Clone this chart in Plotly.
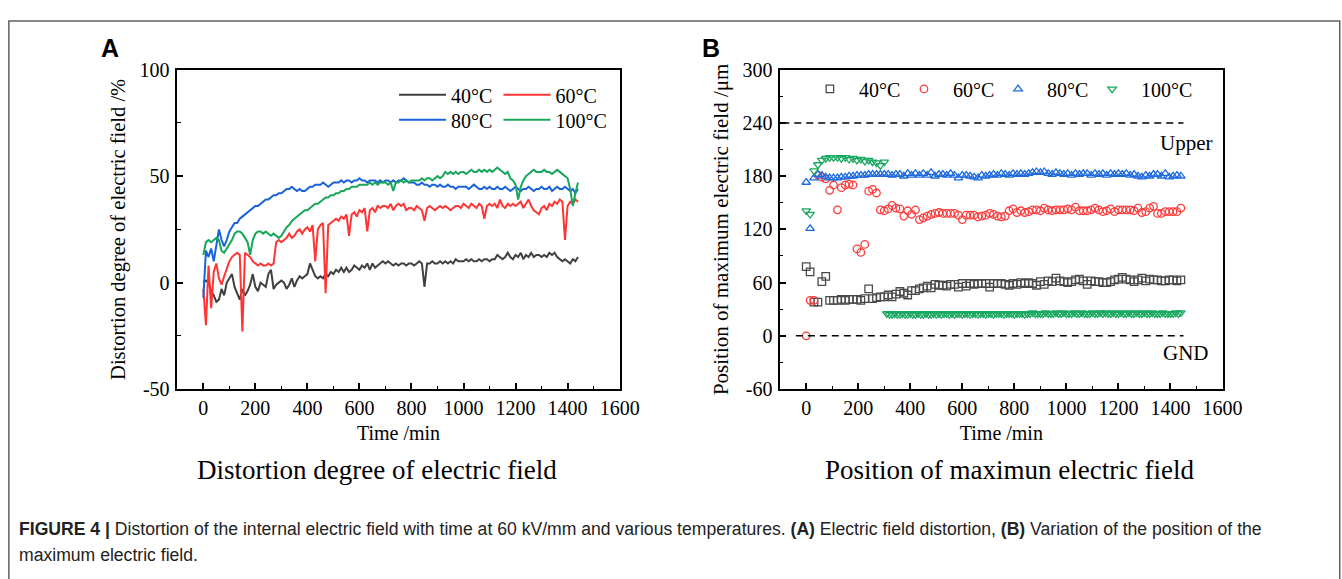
import plotly.graph_objects as go

W, H = 1342, 579
def px(x):
    return x / W
def py(y):
    return 1 - y / H

# ---------------- Panel A data (Distortion degree, %) ----------------
time_a = list(range(0, 1441, 10))
dist_40 = [0, 1, 0, -4, -6, -9, -8, -3, -6, 0,
           2, 4, -2, -5, -8, -3, -6, -4, -1, 4,
           -2, -4, 0, -1, -2, 4, 6, -3, -1, 0,
           1, 0, -3, -1, 2, -2, 1, 3, 2, 3,
           4, 9, 6, 3, 2, 3, 2, 4, 3, 5,
           4, 6, 5, 7, 5, 7, 5, 6, 8, 7,
           6, 8, 7, 9, 6, 9, 7, 8, 9, 10,
           9, 10, 9, 8, 9, 8, 9, 9, 8, 9,
           9, 8, 9, 10, 9, -2, 9, 9, 10, 9,
           9, 10, 9, 10, 9, 10, 9, 11, 10, 10,
           10, 11, 10, 11, 10, 10, 11, 10, 11, 11,
           10, 11, 11, 13, 12, 11, 12, 14, 12, 11,
           13, 12, 14, 11, 13, 12, 14, 12, 13, 13,
           12, 13, 12, 14, 13, 14, 12, 11, 10, 11,
           10, 9, 11, 10, 12]
dist_60 = [-3, -20, 8, -12, 5, 9, 2, -1, 3, 7,
           10, 12, 13, 14, 13, -23, 14, 13, 12, 10,
           9, 8, 9, 8, 8, 9, 8, 9, 19, 20,
           19, 20, 21, 23, 21, 22, 24, 25, 23, 25,
           26, 24, 27, 10, 25, 27, 28, -5, 27, 28,
           29, 30, 29, 31, 30, 32, 22, 32, 33, 31,
           34, 33, 35, 24, 34, 35, 33, 36, 35, 36,
           36, 35, 37, 34, 36, 37, 36, 37, 34, 35,
           35, 34, 36, 35, 34, 29, 35, 36, 35, 34,
           35, 36, 35, 36, 35, 34, 35, 36, 36, 35,
           37, 36, 35, 37, 36, 35, 37, 36, 30, 36,
           37, 36, 37, 35, 39, 36, 35, 37, 36, 37,
           36, 37, 38, 35, 37, 39, 36, 34, 33, 32,
           35, 36, 34, 37, 36, 38, 37, 39, 38, 20,
           36, 38, 37, 39, 38]
dist_80 = [-7, 15, 12, 16, 10, 18, 25, 20, 17, 20,
           24, 26, 28, 28, 30, 31, 32, 33, 34, 35,
           36, 36, 37, 38, 39, 39, 40, 41, 41, 42,
           42, 43, 44, 44, 45, 44, 43, 44, 43, 43,
           44, 45, 45, 46, 46, 46, 47, 46, 45, 46,
           47, 47, 47, 48, 47, 48, 48, 47, 48, 48,
           49, 48, 48, 47, 48, 48, 48, 47, 48, 47,
           48, 48, 47, 48, 47, 48, 48, 49, 48, 47,
           47, 47, 46, 46, 47, 46, 46, 45, 46, 46,
           45, 46, 45, 45, 46, 45, 45, 44, 45, 45,
           45, 45, 44, 45, 46, 45, 44, 44, 45, 44,
           45, 44, 44, 45, 44, 44, 45, 44, 43, 44,
           45, 44, 43, 44, 44, 45, 44, 43, 44, 44,
           45, 44, 44, 45, 43, 44, 45, 44, 44, 45,
           44, 43, 44, 42, 44]
dist_100 = [13, 19, 20, 19, 20, 21, 20, 15, 14, 16,
            18, 20, 23, 24, 24, 23, 21, 19, 13, 20,
            23, 24, 24, 23, 24, 23, 22, 23, 22, 21,
            22, 24, 26, 27, 29, 30, 31, 32, 33, 34,
            34, 35, 36, 37, 37, 38, 39, 40, 40, 41,
            41, 42, 42, 43, 43, 44, 44, 45, 45, 45,
            46, 46, 46, 46, 47, 46, 47, 46, 47, 47,
            47, 46, 47, 43, 47, 47, 48, 47, 48, 47,
            48, 48, 48, 48, 49, 48, 49, 49, 48, 49,
            50, 49, 50, 52, 51, 52, 51, 52, 51, 52,
            52, 51, 52, 53, 52, 52, 53, 52, 53, 52,
            53, 52, 53, 54, 53, 52, 51, 52, 49, 48,
            46, 39, 45, 48, 50, 51, 52, 53, 52, 52,
            52, 53, 52, 52, 51, 52, 53, 52, 51, 50,
            49, 44, 36, 42, 47]

# ---------------- Panel B data (Position of max field, um) ----------------
time_b = list(range(0, 1441, 15))
pos_40 = [78, 72, 38, 38, 61, 67, 40, 40, 40, 41,
          40, 41, 41, 41, 40, 42, 53, 42, 43, 44,
          44, 46, 44, 47, 50, 48, 46, 51, 51, 53,
          54, 56, 54, 58, 57, 57, 56, 58, 58, 55,
          59, 56, 59, 58, 59, 59, 59, 55, 59, 59,
          59, 58, 57, 59, 58, 60, 59, 60, 59, 57,
          61, 58, 62, 61, 65, 62, 61, 60, 61, 63,
          64, 62, 58, 62, 61, 61, 60, 60, 61, 63,
          64, 66, 64, 63, 61, 63, 65, 62, 64, 63,
          63, 62, 62, 63, 63, 62, 63]
pos_60 = [0, 40, 40, 181, 179, 177, 164, 170, 142, 167,
          170, 171, 170, 98, 94, 103, 163, 165, 161, 142,
          141, 143, 147, 144, 143, 135, 141, 137, 142, 131,
          133, 135, 137, 138, 139, 138, 138, 138, 138, 136,
          131, 136, 136, 136, 134, 135, 136, 138, 137, 135,
          134, 135, 141, 143, 139, 141, 139, 140, 142, 142,
          141, 144, 142, 141, 142, 142, 142, 143, 142, 145,
          141, 141, 141, 142, 144, 142, 140, 141, 143, 140,
          142, 142, 142, 142, 141, 144, 139, 140, 144, 146,
          138, 138, 140, 140, 140, 140, 144]
pos_80 = [173, 121, 178, 182, 181, 179, 178, 178, 178, 179,
          179, 180, 180, 181, 181, 181, 182, 182, 182, 182,
          182, 182, 181, 182, 182, 180, 183, 181, 183, 181,
          183, 181, 184, 180, 182, 182, 181, 183, 181, 178,
          181, 181, 180, 179, 178, 181, 180, 181, 182, 181,
          183, 182, 181, 183, 182, 183, 182, 183, 184, 185,
          184, 185, 183, 182, 184, 183, 182, 183, 181, 183,
          182, 183, 183, 181, 183, 182, 183, 181, 183, 182,
          183, 182, 183, 181, 182, 180, 179, 181, 180, 182,
          182, 180, 183, 179, 180, 181, 180]
time_b100_early = list(range(0, 301, 15))
pos_100_early = [141, 137, 186, 193, 198, 200, 201, 201, 201, 200,
                 201, 199, 200, 198, 199, 197, 198, 196, 195, 192, 196]
time_b100_late = list(range(310, 1441, 10))
pos_100_late = [25, 24, 24, 25, 24, 24, 25, 24, 24, 25,
                24, 24, 25, 24, 24, 25, 24, 24, 25, 24,
                25, 24, 25, 25, 24, 25, 24, 25, 25, 24,
                25, 25, 24, 25, 25, 24, 25, 25, 24, 25,
                25, 24, 25, 25, 25, 24, 25, 25, 25, 24,
                25, 25, 25, 24, 25, 25, 26, 25, 25, 25,
                25, 26, 25, 25, 25, 26, 25, 25, 26, 25,
                25, 25, 26, 25, 25, 26, 25, 25, 25, 26,
                25, 25, 26, 25, 26, 25, 25, 26, 25, 25,
                26, 25, 25, 26, 25, 25, 26, 25, 25, 26,
                25, 25, 26, 25, 25, 25, 26, 25, 25, 25,
                25, 26, 25, 26]
time_b100 = time_b100_early + time_b100_late
pos_100 = pos_100_early + pos_100_late

# reference lines
upper_x, upper_y = [-92, 1450], [240, 240]
gnd_x, gnd_y = [-40, 1450], [0, 0]

labels = ['40°C', '60°C', '80°C', '100°C']
line_colors = ['#404040', '#FF3535', '#1862DC', '#17A65A']
marker_colors = ['#4a4a4a', '#FF3B3B', '#1E6BE0', '#19A860']
symbols = ['square-open', 'circle-open', 'triangle-up-open', 'triangle-down-open']

SERIF = 'Liberation Serif'
fig = go.Figure()

series_a = [dist_40, dist_60, dist_80, dist_100]
legends_a = ['legend', 'legend2', 'legend3', 'legend4']
for lab, ys, col, lg in zip(labels, series_a, line_colors, legends_a):
    fig.add_trace(go.Scatter(x=time_a, y=ys, mode='lines', name=lab,
                             line=dict(color=col, width=2),
                             xaxis='x', yaxis='y', legend=lg))

series_b = [(time_b, pos_40), (time_b, pos_60), (time_b, pos_80), (time_b100, pos_100)]
legends_b = ['legend5', 'legend6', 'legend7', 'legend8']
for lab, (xs, ys), col, sym, lg in zip(labels, series_b, marker_colors, symbols, legends_b):
    fig.add_trace(go.Scatter(x=xs, y=ys, mode='markers', name=lab,
                             marker=dict(symbol=sym, size=7.5, color=col,
                                         line=dict(color=col, width=1.3)),
                             xaxis='x2', yaxis='y2', legend=lg))

for xs, ys in [(upper_x, upper_y), (gnd_x, gnd_y)]:
    fig.add_trace(go.Scatter(x=xs, y=ys, mode='lines', showlegend=False,
                             line=dict(color='black', width=1.5, dash='7px,5px'),
                             xaxis='x2', yaxis='y2'))

tickfont = dict(family=SERIF, size=20, color='black')
def xaxis_cfg(domain, anchor):
    return dict(domain=domain, anchor=anchor, range=[-100, 1600],
                tickmode='array', tickvals=[0, 200, 400, 600, 800, 1000, 1200, 1400, 1600],
                ticks='inside', ticklen=6, tickwidth=1.5, tickcolor='black',
                minor=dict(ticks='inside', ticklen=3.5, tickwidth=1.3, tickcolor='black',
                           tickvals=[-100, 100, 300, 500, 700, 900, 1100, 1300, 1500]),
                showline=True, linecolor='black', linewidth=1.5, mirror=True,
                showgrid=False, zeroline=False, tickfont=tickfont,
                title=dict(text='Time /min', font=dict(family=SERIF, size=20, color='black'),
                           standoff=8))

ya_vals = [-50, 0, 50, 100]
ya_text = ['-50', '0', '50', '100']
yb_vals = [-60, 0, 60, 120, 180, 240, 300]
yb_text = ['-60', '0', '60', '120', '180', '240', '300']

def yaxis_cfg(domain, anchor, rng, vals, text, minors, title, tsize):
    return dict(domain=domain, anchor=anchor, range=rng,
                tickmode='array', tickvals=vals, ticktext=text,
                ticks='inside', ticklen=6, tickwidth=1.5, tickcolor='black',
                minor=dict(ticks='inside', ticklen=3.5, tickwidth=1.3, tickcolor='black',
                           tickvals=minors),
                showline=True, linecolor='black', linewidth=1.5, mirror=True,
                showgrid=False, zeroline=False, tickfont=tickfont, ticklabelstandoff=2,
                title=dict(text=title, font=dict(family=SERIF, size=tsize, color='black'),
                           standoff=8))

ydom = [py(393), py(61)]
legend_font = dict(family=SERIF, size=20, color='black')

def leg(xpix, ypix, iw):
    return dict(x=px(xpix), y=py(ypix), xanchor='left', yanchor='middle', orientation='h',
                font=legend_font, bgcolor='rgba(0,0,0,0)', itemwidth=iw)

fig.update_layout(
    width=W, height=H, margin=dict(l=0, r=0, t=0, b=0),
    paper_bgcolor='white', plot_bgcolor='white',
    xaxis=xaxis_cfg([px(180), px(629)], 'y'),
    yaxis=yaxis_cfg(ydom, 'x', [-50, 100], ya_vals, ya_text, [-25, 25, 75],
                    'Distortion degree of electric field /%', 20.5),
    xaxis2=xaxis_cfg([px(792), px(1241)], 'y2'),
    yaxis2=yaxis_cfg(ydom, 'x2', [-60, 300], yb_vals, yb_text, [-30, 30, 90, 150, 210, 270],
                     'Position of maximum electric field /μm', 21),
    legend=leg(400, 87, 47),
    legend2=leg(506, 87, 47),
    legend3=leg(400, 113, 47),
    legend4=leg(506, 113, 47),
    legend5=leg(813, 81, 48),
    legend6=leg(908.5, 81, 48),
    legend7=leg(1004, 81, 48),
    legend8=leg(1099.5, 81, 48),
    showlegend=True,
)

# frame
fig.add_shape(type='rect', xref='paper', yref='paper', x0=px(9), y0=py(600), x1=px(1360), y1=py(10.5),
              line=dict(color='#606060', width=1.5), layer='below')

ann_font = dict(family=SERIF, size=21, color='black')
fig.add_annotation(text='Upper', x=px(1232), y=py(137), xref='paper', yref='paper', xanchor='right',
                   yanchor='middle', showarrow=False, font=ann_font)
fig.add_annotation(text='GND', x=px(1229), y=py(356), xref='paper', yref='paper', xanchor='right',
                   yanchor='middle', showarrow=False, font=ann_font)
fig.add_annotation(text='<b>A</b>', x=px(112), y=py(38), xref='paper', yref='paper',
                   xanchor='center', yanchor='middle', showarrow=False,
                   font=dict(family='Liberation Sans', size=25, color='black'))
fig.add_annotation(text='<b>B</b>', x=px(722), y=py(38), xref='paper', yref='paper',
                   xanchor='center', yanchor='middle', showarrow=False,
                   font=dict(family='Liberation Sans', size=25, color='black'))
fig.add_annotation(text='Distortion degree of electric field', x=px(383), y=py(477),
                   xref='paper', yref='paper', xanchor='center', yanchor='middle',
                   showarrow=False, font=dict(family=SERIF, size=27, color='black'))
fig.add_annotation(text='Position of maximun electric field', x=px(1025), y=py(477),
                   xref='paper', yref='paper', xanchor='center', yanchor='middle',
                   showarrow=False, font=dict(family=SERIF, size=27, color='black'))
cap_font = dict(family='Liberation Sans', size=17.6, color='#222222')
fig.add_annotation(text='<b>FIGURE 4 |</b> Distortion of the internal electric field with time at 60 kV/mm and various temperatures. '
                        '<b>(A)</b> Electric field distortion, <b>(B)</b> Variation of the position of the',
                   x=px(17), y=py(538), xref='paper', yref='paper', xanchor='left', yanchor='middle',
                   showarrow=False, font=cap_font)
fig.add_annotation(text='maximum electric field.', x=px(17), y=py(566), xref='paper', yref='paper',
                   xanchor='left', yanchor='middle', showarrow=False, font=cap_font)

fig.write_html('out.html')
